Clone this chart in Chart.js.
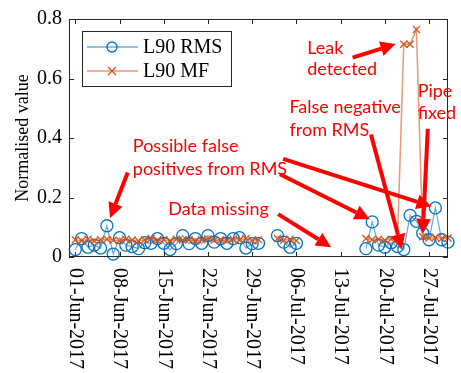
<!DOCTYPE html>
<html>
<head>
<meta charset="utf-8">
<script src="https://cdn.jsdelivr.net/npm/chart.js@4.4.0/dist/chart.umd.min.js"></script>
<style>
  html, body { margin: 0; padding: 0; background: #fff; }
  canvas { display: block; }
</style>
</head>
<body>
<canvas id="leakChart" width="461" height="373"></canvas>
<script>
// days counted from 01-Jun-2017, a null value breaks the line (no data)
const days = [
  0, 1, 2, 3, 4, 5, 6, 7, 8, 9, 10, 11, 12, 13, 14, 15, 16, 17, 18, 19,
  20, 21, 22, 23, 24, 25, 26, 27, 28, 29, 30,
  32, 33, 34, 35, 40,
  46, 47, 48, 49, 50, 51, 52, 53, 54, 55, 56, 57, 58, 59
];
const rmsValues = [
  0.025, 0.062, 0.033, 0.040, 0.030, 0.105, 0.010, 0.065, 0.040, 0.035,
  0.028, 0.048, 0.046, 0.062, 0.046, 0.025, 0.045, 0.072, 0.045, 0.062,
  0.046, 0.072, 0.050, 0.062, 0.046, 0.062, 0.065, 0.030, 0.045, 0.046, null,
  0.072, 0.050, 0.033, 0.046, null,
  0.028, 0.118, 0.040, 0.033, 0.048, 0.035, 0.025, 0.140, 0.120, 0.080,
  0.058, 0.165, 0.058, 0.050
];
const mfValues = [
  0.058, 0.055, 0.060, 0.054, 0.058, 0.060, 0.056, 0.055, 0.060, 0.057,
  0.054, 0.058, 0.062, 0.056, 0.058, 0.055, 0.060, 0.057, 0.059, 0.055,
  0.058, 0.061, 0.056, 0.058, 0.055, 0.060, 0.057, 0.062, 0.055, 0.058, null,
  0.062, 0.056, 0.060, 0.055, null,
  0.062, 0.058, 0.060, 0.056, 0.060, 0.058, 0.715, 0.715, 0.765, 0.068,
  0.064, 0.066, 0.062, 0.064
];

const tickDays = [0, 7, 14, 21, 28, 35, 42, 49, 56];
const tickLabels = [
  "01-Jun-2017", "08-Jun-2017", "15-Jun-2017", "22-Jun-2017", "29-Jun-2017",
  "06-Jul-2017", "13-Jul-2017", "20-Jul-2017", "27-Jul-2017"
];
const seriesNames = ["L90 RMS", "L90 MF"];

// red annotations, placed in data units (day, value)
const noteLines = [
  ["Leak", 36.7, 0.703], ["detected", 36.7, 0.631],
  ["Pipe", 54.2, 0.556], ["fixed", 54.2, 0.484],
  ["False negative", 33.9, 0.503], ["from RMS", 33.9, 0.425],
  ["Possible false", 9.1, 0.373], ["positives from RMS", 9.1, 0.294],
  ["Data missing", 14.7, 0.160]
];
const arrows = [
  [[43.9, 0.670], [50.7, 0.716]],
  [[55.8, 0.431], [55.0, 0.078]],
  [[46.8, 0.412], [51.7, 0.026]],
  [[8.3, 0.284], [5.5, 0.131]],
  [[32.9, 0.330], [56.4, 0.170]],
  [[32.4, 0.278], [46.6, 0.127]],
  [[32.1, 0.144], [40.5, 0.033]]
];

const BLUE = "#0072BD";
const ORANGE = "#D95319";
const SERIF = "'Liberation Serif', 'DejaVu Serif', serif";

function toPoints(vals) {
  return days.map((d, i) => ({ x: d, y: vals[i] }));
}

function drawArrow(ctx, x1, y1, x2, y2) {
  const ang = Math.atan2(y2 - y1, x2 - x1);
  const head = 15, half = 7.5;
  const bx = x2 - head * Math.cos(ang), by = y2 - head * Math.sin(ang);
  ctx.beginPath();
  ctx.moveTo(x1, y1);
  ctx.lineTo(bx, by);
  ctx.stroke();
  ctx.beginPath();
  ctx.moveTo(x2, y2);
  ctx.lineTo(bx + half * Math.sin(ang), by - half * Math.cos(ang));
  ctx.lineTo(bx - half * Math.sin(ang), by + half * Math.cos(ang));
  ctx.closePath();
  ctx.fill();
}

const extras = {
  id: "extras",
  afterDraw(chart) {
    const ctx = chart.ctx;
    const a = chart.chartArea;
    const xs = chart.scales.x, ys = chart.scales.y;
    ctx.save();

    // axes box + inward ticks
    ctx.strokeStyle = "#262626";
    ctx.lineWidth = 1;
    ctx.strokeRect(a.left + 0.5, a.top + 0.5, a.right - a.left - 1, a.bottom - a.top - 1);
    ctx.beginPath();
    tickDays.forEach(v => {
      const px = Math.round(xs.getPixelForValue(v)) + 0.5;
      ctx.moveTo(px, a.bottom); ctx.lineTo(px, a.bottom - 5);
      ctx.moveTo(px, a.top); ctx.lineTo(px, a.top + 5);
    });
    ys.ticks.forEach(t => {
      const py = Math.round(ys.getPixelForValue(t.value)) + 0.5;
      ctx.moveTo(a.left, py); ctx.lineTo(a.left + 5, py);
      ctx.moveTo(a.right, py); ctx.lineTo(a.right - 5, py);
    });
    ctx.stroke();

    // rotated date labels, reading downwards
    ctx.fillStyle = "#000";
    ctx.font = "20px " + SERIF;
    ctx.textAlign = "left";
    ctx.textBaseline = "middle";
    tickDays.forEach((v, i) => {
      ctx.save();
      ctx.translate(xs.getPixelForValue(v), a.bottom + 11);
      ctx.rotate(Math.PI / 2);
      ctx.fillText(tickLabels[i], 0, 0);
      ctx.restore();
    });

    // legend
    const lx = a.left + 13, ly = a.top + 12;
    ctx.fillStyle = "#fff";
    ctx.fillRect(lx, ly, 149, 55);
    ctx.strokeStyle = "#262626";
    ctx.strokeRect(lx + 0.5, ly + 0.5, 149, 55);
    [0, 1].forEach(i => {
      const y = ly + 16 + i * 24;
      ctx.strokeStyle = i === 0 ? "rgba(0,114,189,0.6)" : "rgba(217,83,25,0.6)";
      ctx.lineWidth = 1.5;
      ctx.beginPath();
      ctx.moveTo(lx + 5, y); ctx.lineTo(lx + 56, y);
      ctx.stroke();
      ctx.lineWidth = 1.3;
      if (i === 0) {
        ctx.strokeStyle = BLUE;
        ctx.beginPath();
        ctx.arc(lx + 30, y, 5, 0, Math.PI * 2);
        ctx.stroke();
      } else {
        ctx.strokeStyle = ORANGE;
        ctx.beginPath();
        ctx.moveTo(lx + 26, y - 4); ctx.lineTo(lx + 34, y + 4);
        ctx.moveTo(lx + 26, y + 4); ctx.lineTo(lx + 34, y - 4);
        ctx.stroke();
      }
      ctx.fillStyle = "#000";
      ctx.font = "20px " + SERIF;
      ctx.textAlign = "left";
      ctx.textBaseline = "middle";
      ctx.fillText(seriesNames[i], lx + 61, y + 1);
    });

    // red annotations
    ctx.fillStyle = "#f00";
    ctx.strokeStyle = "#f00";
    ctx.lineWidth = 4;
    ctx.font = "18px Lato, 'Open Sans', sans-serif";
    ctx.textAlign = "left";
    ctx.textBaseline = "middle";
    noteLines.forEach(([t, d, v]) => {
      ctx.fillText(t, xs.getPixelForValue(d), ys.getPixelForValue(v));
    });
    arrows.forEach(([p, q]) => {
      drawArrow(ctx,
        xs.getPixelForValue(p[0]), ys.getPixelForValue(p[1]),
        xs.getPixelForValue(q[0]), ys.getPixelForValue(q[1]));
    });
    ctx.restore();
  }
};

new Chart(document.getElementById("leakChart"), {
  type: "scatter",
  data: {
    datasets: [
      {
        label: seriesNames[0],
        data: toPoints(rmsValues),
        showLine: true,
        spanGaps: false,
        borderColor: "rgba(0,114,189,0.6)",
        borderWidth: 1.2,
        pointStyle: "circle",
        pointRadius: 6,
        pointBorderColor: BLUE,
        pointBorderWidth: 1.3,
        pointBackgroundColor: "rgba(0,0,0,0)",
        clip: false,
        order: 1
      },
      {
        label: seriesNames[1],
        data: toPoints(mfValues),
        showLine: true,
        spanGaps: false,
        borderColor: "rgba(217,83,25,0.6)",
        borderWidth: 1.5,
        pointStyle: "crossRot",
        pointRadius: 5,
        pointBorderColor: ORANGE,
        pointBorderWidth: 1.3,
        clip: false,
        order: 0
      }
    ]
  },
  options: {
    responsive: false,
    animation: false,
    devicePixelRatio: 1,
    layout: { padding: { top: 12, right: 13, left: 0, bottom: 0 } },
    plugins: { legend: { display: false }, tooltip: { enabled: false } },
    scales: {
      x: {
        type: "linear",
        min: -1,
        max: 59,
        afterBuildTicks: s => { s.ticks = tickDays.map(v => ({ value: v })); },
        afterFit: s => { s.height = 116; },
        ticks: { display: false },
        grid: { display: false },
        border: { display: false }
      },
      y: {
        min: 0,
        max: 0.8,
        afterFit: s => { s.width = 69; },
        ticks: {
          stepSize: 0.2,
          color: "#000",
          padding: 7,
          font: { family: SERIF, size: 20 },
          callback: v => String(+v.toFixed(1))
        },
        grid: { display: false, drawTicks: false },
        border: { display: false },
        title: {
          display: true,
          text: "Normalised value",
          color: "#000",
          font: { family: SERIF, size: 18 },
          padding: { top: 12, bottom: 0 }
        }
      }
    }
  },
  plugins: [extras]
});
</script>
</body>
</html>
